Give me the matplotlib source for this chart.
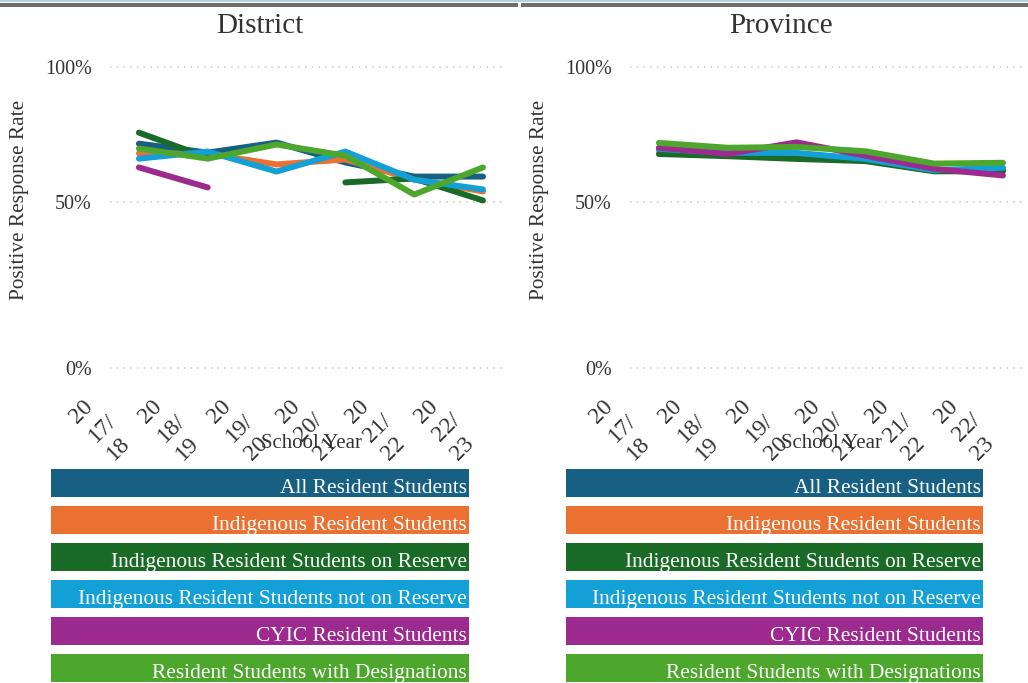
import numpy as np
import matplotlib
matplotlib.use("Agg")
import matplotlib.pyplot as plt
from matplotlib.patches import Rectangle
from matplotlib.ticker import FuncFormatter
from matplotlib.transforms import ScaledTranslation

plt.rcParams["font.family"] = ["Liberation Serif", "DejaVu Serif"]

# data
years = ["20\n17/\n18", "20\n18/\n19", "20\n19/\n20", "20\n20/\n21", "20\n21/\n22", "20\n22/\n23"]
groups = [
    "All Resident Students",
    "Indigenous Resident Students",
    "Indigenous Resident Students on Reserve",
    "Indigenous Resident Students not on Reserve",
    "CYIC Resident Students",
    "Resident Students with Designations",
]
nan = np.nan
district_all = [0.709, 0.676, 0.713, 0.640, 0.589, 0.589]
district_indig = [0.673, 0.672, 0.633, 0.651, 0.578, 0.536]
district_on_res = [0.750, 0.658, nan, 0.568, 0.582, 0.504]
district_not_res = [0.654, 0.680, 0.607, 0.680, 0.578, 0.543]
district_cyic = [0.622, 0.550, nan, nan, nan, nan]
district_desig = [0.691, 0.654, 0.706, 0.665, 0.525, 0.622]

province_all = [0.688, 0.675, 0.670, 0.652, 0.612, 0.615]
province_indig = [0.685, 0.672, 0.670, 0.650, 0.610, 0.612]
province_on_res = [0.671, 0.663, 0.653, 0.645, 0.608, 0.608]
province_not_res = [0.690, 0.675, 0.675, 0.653, 0.612, 0.621]
province_cyic = [0.694, 0.671, 0.714, 0.665, 0.617, 0.593]
province_desig = [0.712, 0.694, 0.697, 0.681, 0.636, 0.639]

colors = ["#186083", "#ea7131", "#1a6b27", "#12a0d7", "#9d2a8e", "#4ea72d"]
text_col = "#333333"

panels = [
    ("District", [district_all, district_indig, district_on_res,
                  district_not_res, district_cyic, district_desig]),
    ("Province", [province_all, province_indig, province_on_res,
                  province_not_res, province_cyic, province_desig]),
]

W, H = 1028, 683
fig = plt.figure(figsize=(W / 100, H / 100), dpi=100)

# top rule
fig.add_artist(Rectangle((0, 1 - 1.5 / H), 1, 1.5 / H, transform=fig.transFigure,
                         color="#b4cfe6", lw=0))
fig.add_artist(Rectangle((0, 1 - 7 / H), 518 / W, 4 / H, transform=fig.transFigure,
                         color="#6e6e6e", lw=0))
fig.add_artist(Rectangle((521 / W, 1 - 7 / H), 1, 4 / H, transform=fig.transFigure,
                         color="#6e6e6e", lw=0))

p = 0.855
fwd = lambda v: np.power(np.clip(v, 0, None), p)
inv = lambda v: np.power(np.clip(v, 0, None), 1 / p)

ax_left = [110, 630]
title_x = [260, 781]
leg_left = [51, 566]
leg_right = [469, 983]
x = np.arange(len(years))
shift = ScaledTranslation(4 / 100, -1 / 100, fig.dpi_scale_trans)

for k, (title, series) in enumerate(panels):
    ax = fig.add_axes([ax_left[k] / W, 1 - 368 / H, 395 / W, 301 / H])
    ax.set_yscale("function", functions=(fwd, inv))
    for vals, c in zip(series, colors):
        ax.plot(x, vals, color=c, lw=4.3, solid_capstyle="round",
                solid_joinstyle="round", zorder=3)
    ax.set_xlim(-0.42, 5.32)
    ax.set_ylim(0, 1)
    ax.set_yticks([0, 0.5, 1])
    ax.yaxis.set_major_formatter(FuncFormatter(lambda v, _: f"{v:.0%}"))
    ax.set_xticks(x)
    ax.set_xticklabels(years, rotation=45, ha="right", va="top",
                       multialignment="left", fontsize=17, color=text_col,
                       linespacing=1.3)
    for lab in ax.get_xticklabels():
        lab.set_transform(lab.get_transform() + shift)
    ax.tick_params(axis="x", length=0, pad=17)
    ax.tick_params(axis="y", length=0, pad=13, labelsize=14.5, labelcolor=text_col)
    for s in ax.spines.values():
        s.set_visible(False)
    ax.grid(axis="y", color="#c8c8c8", lw=1.1, linestyle=(0, (1, 3.4)))
    ax.grid(axis="x", visible=False)
    for gl in ax.get_ygridlines():
        gl.set_clip_on(False)
    ax.text(-0.228, (368 - 200) / 301, "Positive Response Rate", rotation=90,
            ha="center", va="center", fontsize=15.3, color=text_col,
            transform=ax.transAxes)
    ax.text(0.511, (368 - 448) / 301, "School Year", ha="center", va="baseline",
            fontsize=15, color=text_col, transform=ax.transAxes, zorder=5)
    fig.text(title_x[k] / W, 1 - 33 / H, title, ha="center", va="baseline",
             fontsize=21, color=text_col)

    # legend as coloured bands
    lax = fig.add_axes([leg_left[k] / W, 1 - 682 / H,
                        (leg_right[k] - leg_left[k]) / W, 213 / H])
    lax.barh(np.arange(len(groups)), 1, height=28 / 37, color=colors, left=0)
    lax.set_xlim(0, 1)
    lax.set_ylim(5 + 14 / 37, -14 / 37)
    lax.axis("off")
    for i, g in enumerate(groups):
        lax.text(1 - 2 / 418, i + 10 / 37, g, ha="right", va="baseline",
                 color="white", fontsize=15.4)

fig.savefig("out.png", dpi=100)
